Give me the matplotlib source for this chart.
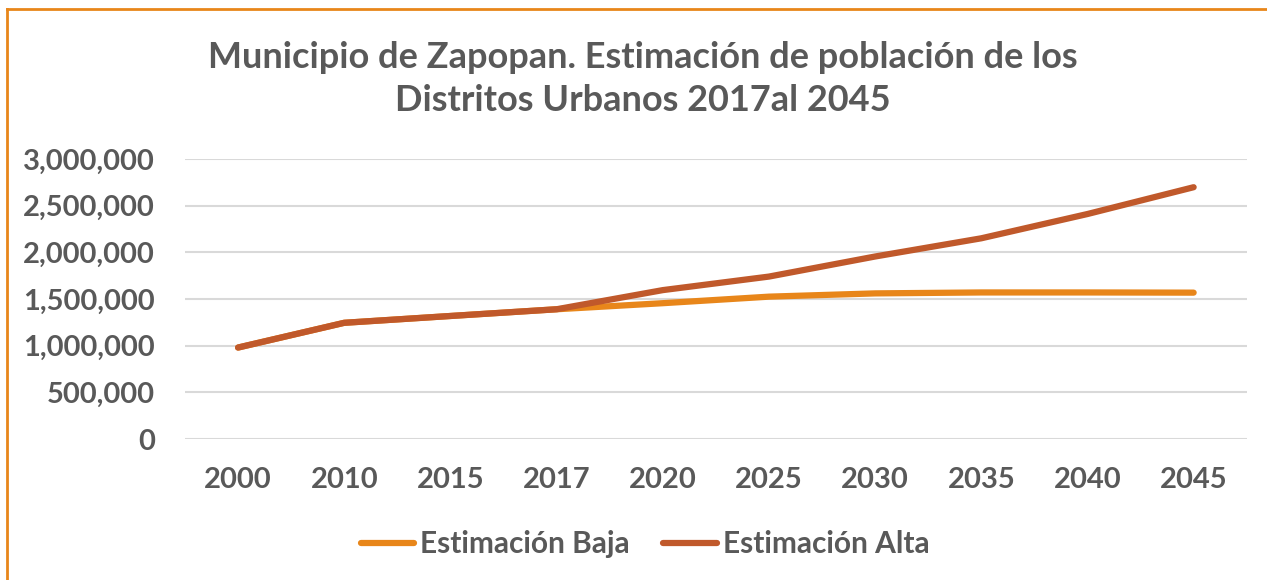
import matplotlib
matplotlib.use("Agg")
import matplotlib.pyplot as plt
from matplotlib.lines import Line2D
from matplotlib.ticker import FuncFormatter

# datos
anios = ["2000", "2010", "2015", "2017", "2020", "2025", "2030", "2035", "2040", "2045"]
estimacion_baja = [980000, 1245000, 1318000, 1390000, 1455000, 1525000, 1560000, 1570000, 1570000, 1568000]
estimacion_alta = [980000, 1245000, 1318000, 1390000, 1595000, 1740000, 1955000, 2150000, 2410000, 2697000]

gris = "#595959"
plt.rcParams["font.family"] = ["Lato", "DejaVu Sans"]
plt.rcParams["font.weight"] = "bold"

fig = plt.figure(figsize=(12.67, 5.8), dpi=100)
ax = fig.add_axes([0.146, 0.243, 0.838, 0.483])

x = range(len(anios))
ax.plot(x, estimacion_baja, color="#E8861A", lw=4.5, solid_capstyle="round", label="Estimación Baja", zorder=3)
ax.plot(x, estimacion_alta, color="#C0592B", lw=4.5, solid_capstyle="round", label="Estimación Alta", zorder=4)

ax.set_xlim(-0.5, len(anios) - 0.5)
ax.set_ylim(0, 3000000)
ax.set_yticks(range(0, 3000001, 500000))
ax.yaxis.set_major_formatter(FuncFormatter(lambda v, p: f"{int(v):,}"))
ax.set_xticks(list(x))
ax.set_xticklabels(anios)
ax.grid(axis="y", color="#D9D9D9", lw=1.5)
ax.set_axisbelow(True)
for s in ax.spines.values():
    s.set_visible(False)
ax.tick_params(length=0, labelsize=21, labelcolor=gris)
ax.tick_params(axis="y", pad=21.5)
ax.tick_params(axis="x", pad=20)

fig.suptitle("Municipio de Zapopan. Estimación de población de los\nDistritos Urbanos 2017al 2045",
             x=0.507, y=0.93, fontsize=26, color=gris, fontweight="bold", linespacing=1.4)

ax.legend(loc="center", bbox_to_anchor=(0.509, 0.062, 0, 0), bbox_transform=fig.transFigure,
          ncol=2, frameon=False, fontsize=21.5, labelcolor=gris, handlelength=1.8,
          handletextpad=0.2, columnspacing=1.1)

# borde naranja
fig.add_artist(Line2D([0.0055, 0.0055], [0, 0.985], transform=fig.transFigure, color="#E8861A", lw=2))
fig.add_artist(Line2D([0.0055, 1], [0.985, 0.985], transform=fig.transFigure, color="#E8861A", lw=2))

fig.savefig("out.png", dpi=100, facecolor="white")
